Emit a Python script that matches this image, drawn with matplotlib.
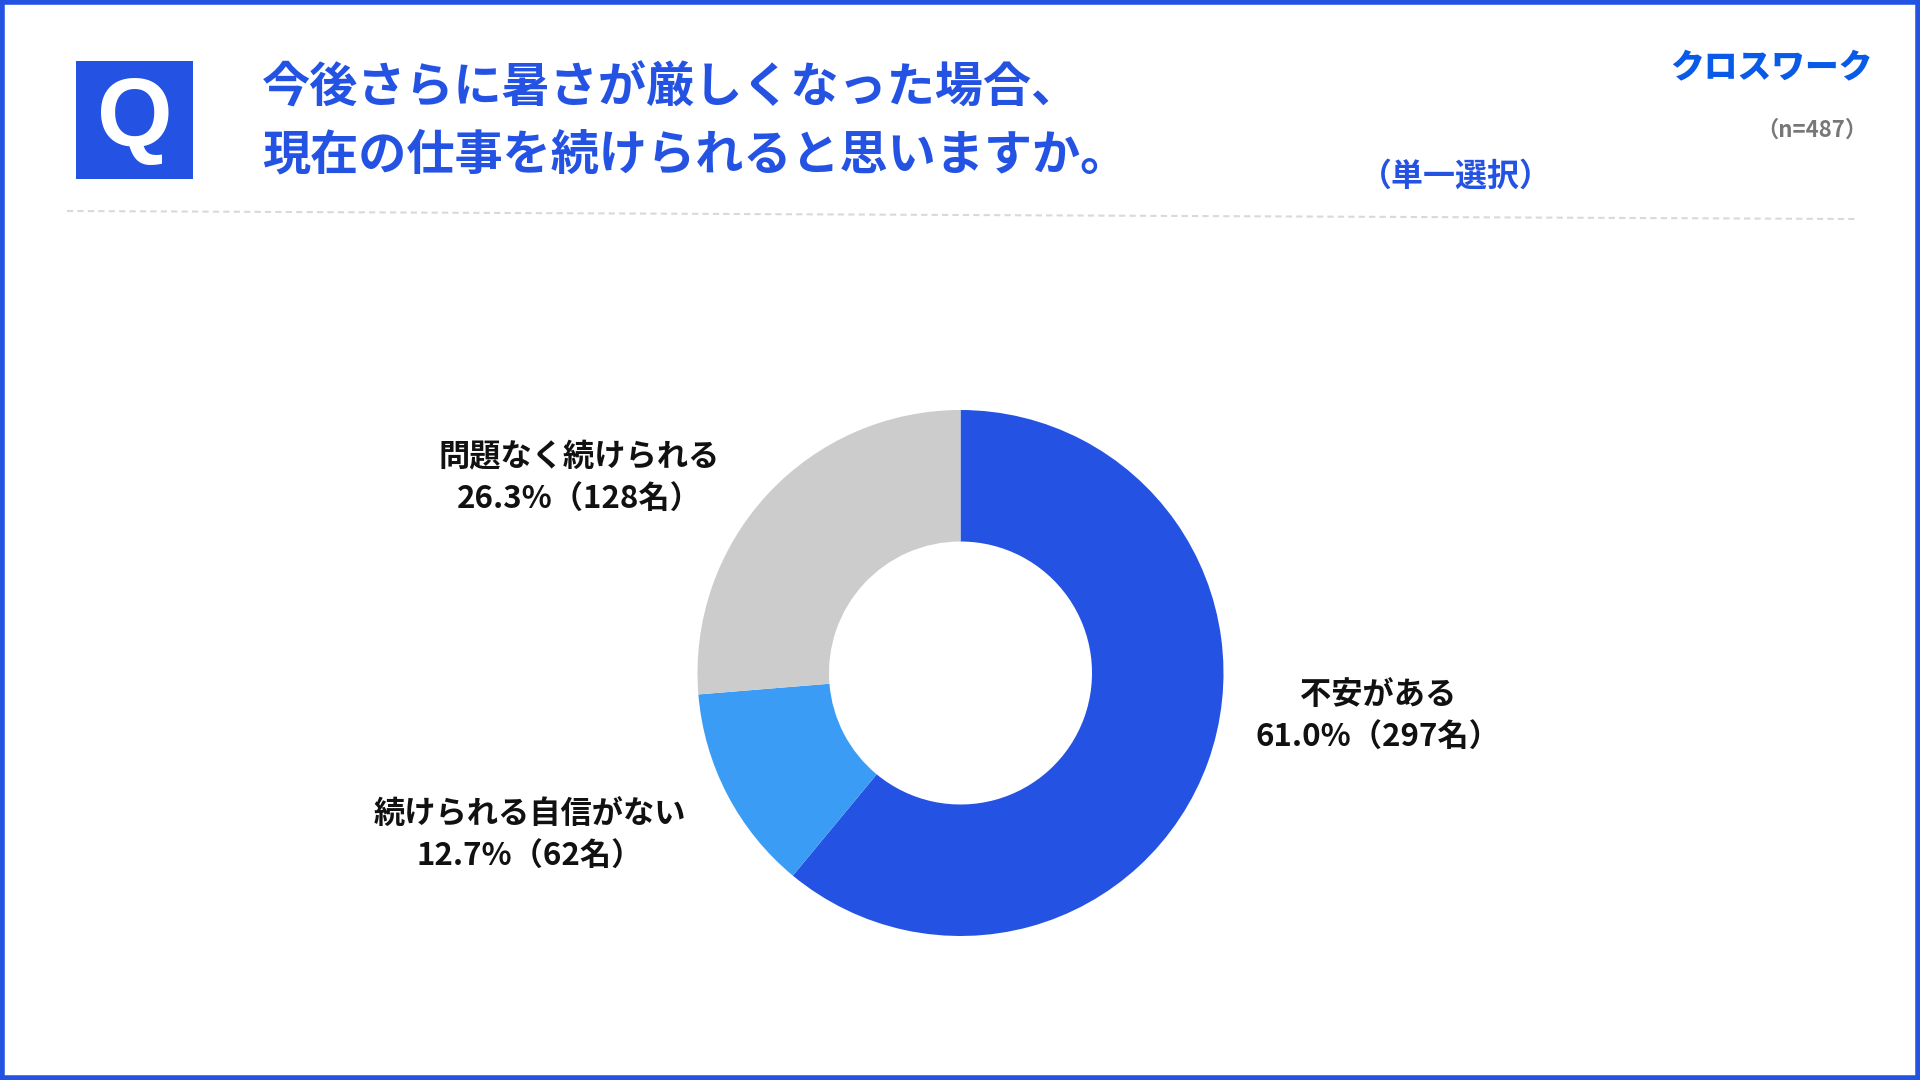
import matplotlib
matplotlib.use("Agg")
import matplotlib.pyplot as plt
from matplotlib.patches import Rectangle
from matplotlib.lines import Line2D

plt.rcParams['font.family'] = ['Noto Sans CJK JP', 'DejaVu Sans']

# datos
categorias = ['不安がある', '続けられる自信がない', '問題なく続けられる']
porcentajes = [61.0, 12.7, 26.3]
personas = [297, 62, 128]
colores = ['#2453E4', '#3A9CF4', '#CCCCCC']
titulo = ['今後さらに暑さが厳しくなった場合、', '現在の仕事を続けられると思いますか。']
n_total = 487

W, H = 1920, 1080
fig = plt.figure(figsize=(W / 100, H / 100), dpi=100)
fig.patch.set_facecolor('white')


def fx(x):
    return x / W


def fy(y):
    return 1 - y / H


# marco azul
fig.patches.append(Rectangle((0.001, 0.002), 0.998, 0.996, transform=fig.transFigure,
                             fill=False, edgecolor='#2453E4', linewidth=4))

# caja Q
fig.patches.append(Rectangle((fx(76), fy(179)), fx(193) - fx(76), fy(61) - fy(179),
                             transform=fig.transFigure, facecolor='#2453E4', edgecolor='none'))
fig.text(fx(135), fy(121), 'Q', color='white', fontsize=70, fontweight='bold',
         family=['Liberation Sans', 'DejaVu Sans'], ha='center', va='center')

# titulo
fig.text(fx(262), fy(88), titulo[0], color='#2453E4', fontsize=34.7, fontweight='bold',
         ha='left', va='center')
fig.text(fx(262), fy(155), titulo[1], color='#2453E4', fontsize=34.7, fontweight='bold',
         ha='left', va='center')
fig.text(fx(1456), fy(177), '（単一選択）', color='#2453E4', fontsize=23, fontweight='bold',
         ha='center', va='center')

# logo y n
fig.text(fx(1771), fy(67), 'クロスワーク', color='#0A5AE8', fontsize=24.3, fontweight='heavy',
         ha='center', va='center')
fig.text(fx(1867), fy(130), f'（n={n_total}）', color='#777777', fontsize=16, fontweight='bold',
         ha='right', va='center')

# linea discontinua
fig.lines.append(Line2D([fx(67), fx(1857)], [fy(211), fy(219)], transform=fig.transFigure,
                        color='#D9D9D9', linewidth=1.5, linestyle=(0, (3, 2))))

# donut
cx, cy, r = 960.5, 673, 263
ax = fig.add_axes([fx(cx - r), fy(cy + r), 2 * r / W, 2 * r / H])
ax.pie(porcentajes, colors=colores, startangle=90, counterclock=False,
       wedgeprops=dict(width=0.5, edgecolor='none'), radius=1)
ax.set_xlim(-1, 1)
ax.set_ylim(-1, 1)
ax.set_aspect('equal')
ax.axis('off')

# etiquetas
pos_etiquetas = [(1378, 695), (530, 814), (579, 457)]
for cat, pct, num, (x, y) in zip(categorias, porcentajes, personas, pos_etiquetas):
    fig.text(fx(x), fy(y), cat, fontsize=22.5, fontweight='bold', color='#111111',
             ha='center', va='center')
    fig.text(fx(x), fy(y + 43), f'{pct:.1f}%（{num}名）', fontsize=22.5, fontweight='bold',
             color='#111111', ha='center', va='center')

fig.savefig('out.png', dpi=100)
